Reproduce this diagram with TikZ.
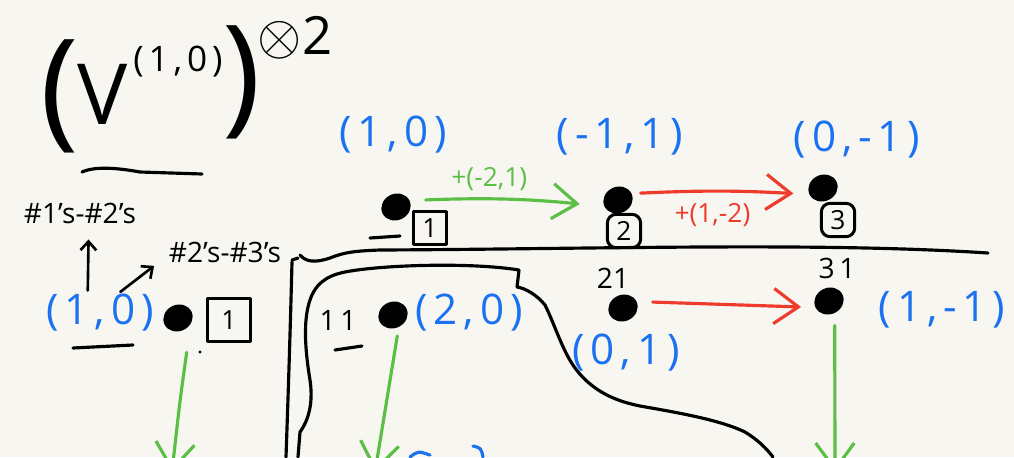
\documentclass[tikz,border=0pt]{standalone}
\usepackage{fontspec}
\setmainfont{Open Sans}
\newfontfamily\lblfont[LetterSpace=14]{Open Sans}
\usetikzlibrary{arrows.meta,shapes.geometric}
\definecolor{paper}{HTML}{F8F6F1}
\definecolor{hblue}{HTML}{1A72F0}
\definecolor{hgreen}{HTML}{5CBF45}
\definecolor{hred}{HTML}{EE3B2B}
\begin{document}
\begin{tikzpicture}[x=0.02cm,y=-0.02cm,line cap=round,line join=round,
  ink/.style={line width=1.8pt},
  dotn/.style={ellipse,fill=black,minimum width=17pt,minimum height=15pt,inner sep=0pt,rotate=25},
  boxn/.style={draw,line width=1.7pt,minimum size=19pt,inner sep=0pt,font=\fontsize{15}{15}\selectfont},
  rboxn/.style={boxn,rounded corners=5pt},
  bluelbl/.style={text=hblue,inner sep=0pt,font=\lblfont\fontsize{24}{26}\selectfont},
  blacklbl/.style={inner sep=0pt,font=\fontsize{16}{18}\selectfont},
  glbl/.style={text=hgreen,inner sep=0pt,font=\fontsize{15}{17}\selectfont},
  rlbl/.style={text=hred,inner sep=0pt,font=\fontsize{15}{17}\selectfont},
  harrow/.style={line width=1.8pt,-{Straight Barb[length=14pt,width=20pt]}},
  varrow/.style={line width=1.8pt,-{Straight Barb[length=15pt,width=22pt]}},
  smallarrow/.style={line width=1.5pt,-{Straight Barb[length=5pt,width=9pt]}}]
\fill[paper] (0,0) rectangle (1014,457);
\useasboundingbox (0,0) rectangle (1014,457);
\clip (0,0) rectangle (1014,457);

% ---- title
\node[inner sep=0pt,font=\fontsize{74}{74}\selectfont] (lp) at (60,96) {(};
\node[inner sep=0pt,font=\fontsize{48}{48}\selectfont] (V) at (103,94) {V};
\node[inner sep=0pt,font=\lblfont\fontsize{20}{20}\selectfont] (sup) at (178,62) {(1,0)};
\node[inner sep=0pt,font=\fontsize{74}{74}\selectfont] (rp) at (242,82) {)};
\node[inner sep=0pt,font=\fontsize{30}{30}\selectfont] (tens) at (295,38) {\scalebox{1.3}{$\otimes$}2};
\draw[ink] (82,172) .. controls (95,166) and (118,168) .. (140,172) -- (202,174);

% ---- left column
\node[blacklbl] (h1) at (80,213) {\#1's-\#2's};
\node[blacklbl] (h2) at (225,252) {\#2's-\#3's};
\node[bluelbl] (L) at (100,313) {(1,0)};
\node[dotn] (d1) at (178,318) {};
\node[boxn,minimum size=24pt] (b1) at (229,320) {1};
\fill (200,352) circle (1.6);
\draw[ink] (73,348) -- (133,345);
\draw[smallarrow,shorten >=9pt,shorten <=2pt] ([xshift=-7pt]L.north) -- ([xshift=5pt]h1.south);
\draw[smallarrow,shorten >=3pt,shorten <=2pt] ([xshift=10pt]L.north) -- ([xshift=-38pt]h2.south);
\coordinate (g1) at (172,472);
\draw[varrow,hgreen] (d1.south) ++(3,22) coordinate (s1) (s1) .. controls (180,400) .. (g1);

% ---- top row
\node[bluelbl] (T1) at (393,135) {(1,0)};
\node[dotn] (e1) at (396,207) {};
\draw[ink] (370,238) -- (400,236);
\node[boxn] (c1) at (430,228) {1};
\node[bluelbl] (T2) at (620,137) {(-1,1)};
\node[dotn] (e2) at (618,200) {};
\node[rboxn] (c2) at (624,231) {2};
\node[bluelbl] (T3) at (857,140) {(0,-1)};
\node[dotn] (e3) at (823,188) {};
\node[rboxn] (c3) at (838,220) {3};
\draw[harrow,hgreen,shorten <=9pt,shorten >=14pt] (e1.east) to[bend left=4] node[glbl,above=4pt,pos=0.4] {+(-2,1)} (e2.west);
\draw[harrow,hred,shorten <=5pt,shorten >=9pt] (e2.east) to[bend left=3] node[rlbl,below=6pt,pos=0.45] {+(1,-2)} (e3.west);

% ---- separators
\draw[ink] (300,255) .. controls (306,262) and (315,263) .. (330,258) .. controls (345,252) and (355,251) .. (380,250)
  .. controls (600,249) and (820,242) .. (988,253);
\draw[ink] (292,260) -- (298,258);
\draw[ink] (292,262) .. controls (290,340) and (288,400) .. (286,457);
\draw[ink] (298,457) -- (300,432) .. controls (310,418) and (313,400) .. (310,380)
  .. controls (305,350) and (303,320) .. (310,300) .. controls (315,285) and (325,276) .. (345,272)
  .. controls (380,265) and (470,262) .. (519,270) -- (517,287) .. controls (525,288) and (537,295) .. (545,305)
  .. controls (555,325) and (562,350) .. (575,368) .. controls (590,388) and (610,400) .. (640,406)
  .. controls (680,413) and (720,420) .. (745,432) .. controls (758,440) and (766,448) .. (773,457);

% ---- bottom row
\node[blacklbl] (n11) at (338,320) {1\,1};
\draw[ink] (335,350) -- (362,346);
\node[dotn] (f1) at (393,315) {};
\node[bluelbl] (B1) at (469,313) {(2,0)};
\coordinate (g2) at (375,472);
\draw[varrow,hgreen,shorten <=5pt] (f1.south) -- (g2);
\node[blacklbl] (n21) at (613,278) {21};
\node[dotn] (f2) at (623,308) {};
\node[bluelbl] (B2) at (626,353) {(0,1)};
\node[blacklbl] (n31) at (837,268) {3\,1};
\node[dotn] (f3) at (829,301) {};
\node[bluelbl] (B3) at (942,310) {(1,-1)};
\coordinate (g3) at (835,472);
\draw[varrow,hgreen,shorten <=7pt] (f3.south) -- (g3);
\draw[harrow,hred,shorten <=9pt,shorten >=8pt] (f2.east) -- (f3.west);

% ---- cut-off blue marks at the bottom
\draw[hblue,line width=1.8pt] (430,455) .. controls (418,451) .. (410,457);
\draw[hblue,line width=1.8pt] (473,446) .. controls (481,448) .. (483,457);
\end{tikzpicture}
\end{document}
